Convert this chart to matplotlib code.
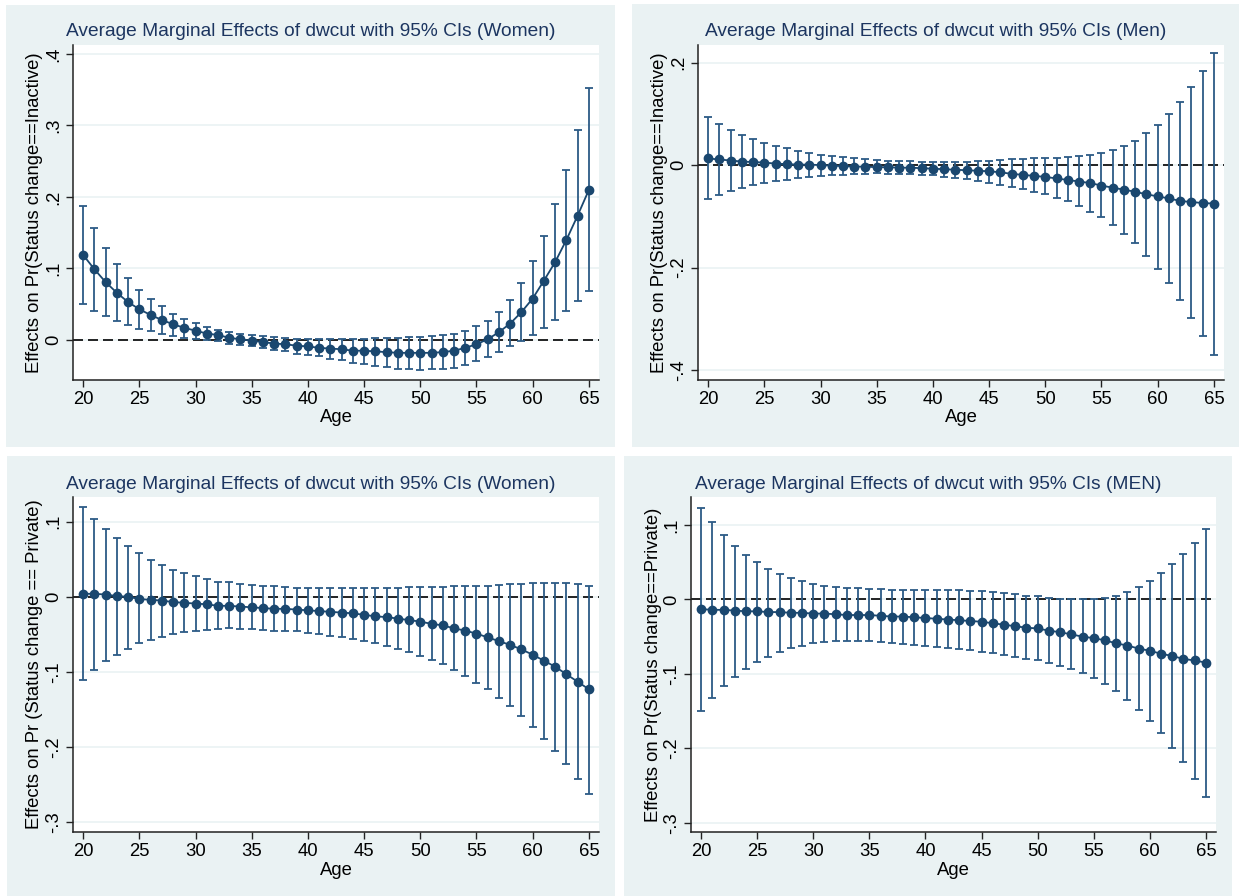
import matplotlib
matplotlib.use('Agg')
import matplotlib.pyplot as plt
from matplotlib.patches import Rectangle

plt.rcParams['font.family'] = ['Liberation Sans', 'DejaVu Sans']

# Data (age 20..65)
ages = list(range(20, 66))

# Panel 1: Women, Status change == Inactive
w_inact = [0.119, 0.099, 0.081, 0.066, 0.053, 0.043, 0.035, 0.028, 0.022, 0.017,
           0.013, 0.009, 0.007, 0.003, 0.001, -0.001, -0.003, -0.005, -0.006, -0.008,
           -0.009, -0.011, -0.012, -0.013, -0.015, -0.015, -0.016, -0.017, -0.018, -0.018,
           -0.018, -0.018, -0.017, -0.015, -0.011, -0.006, 0.001, 0.011, 0.023, 0.039,
           0.058, 0.083, 0.109, 0.140, 0.174, 0.210]
w_inact_hi = [0.188, 0.156, 0.129, 0.106, 0.087, 0.070, 0.057, 0.047, 0.037, 0.030,
              0.024, 0.018, 0.014, 0.011, 0.009, 0.007, 0.005, 0.004, 0.003, 0.002,
              0.002, 0.002, 0.002, 0.002, 0.002, 0.002, 0.003, 0.003, 0.003, 0.004,
              0.004, 0.006, 0.007, 0.009, 0.013, 0.019, 0.027, 0.039, 0.056, 0.080,
              0.110, 0.146, 0.190, 0.238, 0.294, 0.352]
w_inact_lo = [0.050, 0.041, 0.033, 0.026, 0.021, 0.016, 0.013, 0.008, 0.006, 0.003,
              0.001, 0.000, -0.002, -0.005, -0.007, -0.009, -0.011, -0.014, -0.016, -0.019,
              -0.021, -0.023, -0.026, -0.028, -0.032, -0.034, -0.036, -0.038, -0.040, -0.041,
              -0.042, -0.041, -0.041, -0.039, -0.035, -0.030, -0.024, -0.017, -0.009, -0.001,
              0.007, 0.017, 0.028, 0.041, 0.054, 0.068]

# Panel 2: Men, Status change == Inactive
m_inact = [0.013, 0.011, 0.009, 0.007, 0.006, 0.005, 0.003, 0.002, 0.001, 0.001,
           0.000, -0.001, -0.002, -0.003, -0.003, -0.004, -0.004, -0.005, -0.005, -0.006,
           -0.007, -0.008, -0.009, -0.010, -0.011, -0.012, -0.014, -0.017, -0.019, -0.021,
           -0.023, -0.026, -0.029, -0.032, -0.035, -0.040, -0.044, -0.048, -0.052, -0.057,
           -0.061, -0.065, -0.070, -0.072, -0.074, -0.075]
m_inact_hi = [0.093, 0.080, 0.069, 0.059, 0.051, 0.044, 0.037, 0.033, 0.028, 0.023,
              0.020, 0.018, 0.015, 0.013, 0.011, 0.010, 0.009, 0.008, 0.008, 0.007,
              0.007, 0.007, 0.007, 0.007, 0.008, 0.009, 0.010, 0.011, 0.012, 0.013,
              0.014, 0.014, 0.016, 0.018, 0.020, 0.023, 0.029, 0.038, 0.048, 0.063,
              0.078, 0.100, 0.123, 0.152, 0.183, 0.218]
m_inact_lo = [-0.067, -0.059, -0.051, -0.045, -0.039, -0.035, -0.031, -0.029, -0.025, -0.023,
              -0.021, -0.020, -0.019, -0.018, -0.017, -0.016, -0.017, -0.017, -0.018, -0.019,
              -0.020, -0.023, -0.025, -0.028, -0.031, -0.034, -0.038, -0.042, -0.047, -0.052,
              -0.057, -0.064, -0.071, -0.080, -0.091, -0.102, -0.117, -0.134, -0.153, -0.177,
              -0.203, -0.231, -0.264, -0.299, -0.334, -0.370]

# Panel 3: Women, Status change == Private
w_priv = [0.004, 0.004, 0.003, 0.001, 0.000, -0.003, -0.004, -0.005, -0.007, -0.008,
          -0.009, -0.010, -0.012, -0.012, -0.013, -0.014, -0.015, -0.016, -0.016, -0.017,
          -0.018, -0.019, -0.020, -0.021, -0.022, -0.024, -0.026, -0.027, -0.029, -0.031,
          -0.033, -0.036, -0.038, -0.042, -0.045, -0.049, -0.054, -0.059, -0.064, -0.070,
          -0.077, -0.085, -0.093, -0.103, -0.113, -0.123]
w_priv_hi = [0.119, 0.104, 0.090, 0.078, 0.067, 0.058, 0.049, 0.042, 0.035, 0.031,
             0.027, 0.023, 0.020, 0.019, 0.017, 0.016, 0.015, 0.014, 0.013, 0.012,
             0.012, 0.012, 0.012, 0.012, 0.012, 0.012, 0.012, 0.012, 0.012, 0.013,
             0.013, 0.013, 0.013, 0.014, 0.015, 0.015, 0.015, 0.016, 0.017, 0.017,
             0.018, 0.018, 0.018, 0.018, 0.017, 0.015]
w_priv_lo = [-0.110, -0.097, -0.086, -0.077, -0.069, -0.062, -0.057, -0.054, -0.050, -0.047,
             -0.045, -0.044, -0.043, -0.042, -0.043, -0.043, -0.044, -0.045, -0.046, -0.046,
             -0.048, -0.050, -0.052, -0.054, -0.056, -0.059, -0.062, -0.066, -0.069, -0.074,
             -0.079, -0.084, -0.090, -0.097, -0.105, -0.114, -0.123, -0.134, -0.145, -0.158,
             -0.173, -0.189, -0.205, -0.223, -0.242, -0.262]

# Panel 4: Men, Status change == Private
m_priv = [-0.013, -0.014, -0.014, -0.015, -0.016, -0.016, -0.017, -0.017, -0.018, -0.018,
          -0.019, -0.019, -0.020, -0.021, -0.021, -0.021, -0.022, -0.023, -0.023, -0.024,
          -0.025, -0.026, -0.027, -0.028, -0.029, -0.030, -0.032, -0.034, -0.036, -0.038,
          -0.039, -0.042, -0.044, -0.047, -0.050, -0.052, -0.055, -0.059, -0.062, -0.066,
          -0.069, -0.073, -0.076, -0.080, -0.082, -0.085]
m_priv_hi = [0.123, 0.104, 0.087, 0.072, 0.060, 0.050, 0.041, 0.034, 0.029, 0.025,
             0.021, 0.018, 0.017, 0.015, 0.015, 0.014, 0.014, 0.013, 0.013, 0.013,
             0.013, 0.013, 0.012, 0.012, 0.011, 0.011, 0.010, 0.009, 0.007, 0.005,
             0.004, 0.002, 0.001, 0.000, 0.000, 0.000, 0.002, 0.005, 0.010, 0.017,
             0.025, 0.035, 0.047, 0.061, 0.076, 0.094]
m_priv_lo = [-0.150, -0.132, -0.117, -0.104, -0.093, -0.084, -0.077, -0.070, -0.065, -0.062,
             -0.059, -0.057, -0.056, -0.056, -0.056, -0.056, -0.057, -0.058, -0.060, -0.061,
             -0.062, -0.064, -0.065, -0.067, -0.068, -0.070, -0.072, -0.075, -0.077, -0.080,
             -0.081, -0.085, -0.089, -0.093, -0.099, -0.105, -0.114, -0.123, -0.135, -0.149,
             -0.163, -0.180, -0.200, -0.219, -0.241, -0.265]

xticks = [20, 25, 30, 35, 40, 45, 50, 55, 60, 65]

panels = [
    dict(title='Average Marginal Effects of dwcut with 95% CIs (Women)',
         ylabel='Effects on Pr(Status change==Inactive)',
         y=w_inact, lo=w_inact_lo, hi=w_inact_hi,
         yticks=[0, 0.1, 0.2, 0.3, 0.4], yticklabels=['0', '.1', '.2', '.3', '.4'],
         ylim=(-0.056, 0.4126),
         bg=(6, 5, 615, 447), ax=(73, 45, 599, 380)),
    dict(title='Average Marginal Effects of dwcut with 95% CIs (Men)',
         ylabel='Effects on Pr(Status change==Inactive)',
         y=m_inact, lo=m_inact_lo, hi=m_inact_hi,
         yticks=[-0.4, -0.2, 0, 0.2], yticklabels=['-.4', '-.2', '0', '.2'],
         ylim=(-0.4195, 0.2345),
         bg=(632, 4, 1239, 447), ax=(698, 45, 1224, 380)),
    dict(title='Average Marginal Effects of dwcut with 95% CIs (Women)',
         ylabel='Effects on Pr (Status change == Private)',
         y=w_priv, lo=w_priv_lo, hi=w_priv_hi,
         yticks=[-0.3, -0.2, -0.1, 0, 0.1], yticklabels=['-.3', '-.2', '-.1', '0', '.1'],
         ylim=(-0.3128, 0.1327),
         bg=(7, 456, 615, 896), ax=(73, 497, 599, 832)),
    dict(title='Average Marginal Effects of dwcut with 95% CIs (MEN)',
         ylabel='Effects on Pr(Status change==Private)',
         y=m_priv, lo=m_priv_lo, hi=m_priv_hi,
         yticks=[-0.3, -0.2, -0.1, 0, 0.1], yticklabels=['-.3', '-.2', '-.1', '0', '.1'],
         ylim=(-0.3125, 0.1376),
         bg=(624, 456, 1232, 896), ax=(691, 497, 1216, 832)),
]

W, H = 1239, 896
BG = '#eaf2f3'
NAVY = '#1a476f'
CI_COL = '#2c5b86'
TITLE_COL = '#1c3560'

fig = plt.figure(figsize=(W / 100, H / 100), dpi=100)
fig.patch.set_facecolor('white')

for p in panels:
    x0, y0, x1, y1 = p['bg']
    fig.patches.append(Rectangle((x0 / W, 1 - y1 / H), (x1 - x0) / W, (y1 - y0) / H,
                                 transform=fig.transFigure, facecolor=BG,
                                 edgecolor='none', zorder=-5))
    ty = 32 if y0 < 100 else 484
    fig.text((x0 + x1) / 2 / W, 1 - ty / H, p['title'], ha='center', va='center',
             fontsize=13.8, color=TITLE_COL)

    a0, b0, a1, b1 = p['ax']
    ax = fig.add_axes([a0 / W, 1 - b1 / H, (a1 - a0) / W, (b1 - b0) / H])
    ax.set_zorder(2)
    ax.set_facecolor('white')

    for t in p['yticks']:
        ax.axhline(t, color=BG, lw=1.2, zorder=0)
    ax.axhline(0, color='black', lw=1.2, ls=(0, (6, 3)), zorder=1)

    lo_err = [v - l for v, l in zip(p['y'], p['lo'])]
    hi_err = [h - v for v, h in zip(p['y'], p['hi'])]
    ax.errorbar(ages, p['y'], yerr=[lo_err, hi_err], fmt='none', ecolor=CI_COL,
                elinewidth=1.3, capsize=3, capthick=1.3, zorder=2)
    ax.plot(ages, p['y'], color=NAVY, lw=1.3, marker='o', markersize=6,
            markerfacecolor=NAVY, markeredgecolor=NAVY, zorder=3)

    ax.set_xlim(19.1, 65.9)
    ax.set_ylim(*p['ylim'])
    ax.set_xticks(xticks)
    ax.set_xticklabels([str(v) for v in xticks])
    ax.set_yticks(p['yticks'])
    ax.set_yticklabels(p['yticklabels'], rotation=90, va='center')

    ax.spines['top'].set_visible(False)
    ax.spines['right'].set_visible(False)
    for s in ('left', 'bottom'):
        ax.spines[s].set_color('#222222')
        ax.spines[s].set_linewidth(1.1)
    ax.tick_params(axis='both', direction='out', length=5, width=1.0,
                   color='#222222', labelsize=13.3, pad=3)

    ax.set_xlabel('Age', fontsize=13.3, labelpad=1)
    ax.set_ylabel(p['ylabel'], fontsize=13.3, labelpad=1)

fig.savefig('out.png', dpi=100)
